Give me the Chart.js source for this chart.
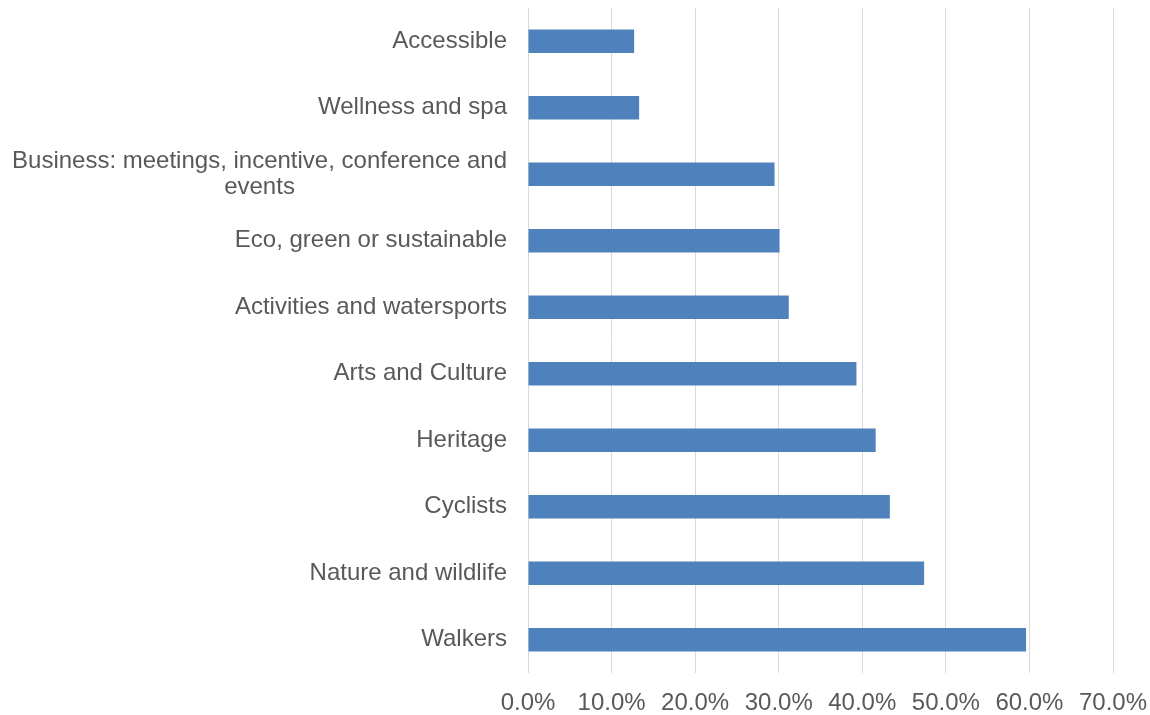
<!DOCTYPE html>
<html>
<head>
<meta charset="utf-8">
<script src="https://cdn.jsdelivr.net/npm/chart.js@4/dist/chart.umd.min.js"></script>
<style>
  body { margin: 0; background: #fff; }
  #wrap { width: 1150px; height: 715px; }
</style>
</head>
<body>
<div id="wrap"><canvas id="myChart" width="1150" height="715"></canvas></div>
<script>
// categories, top to bottom
const categories = [
  'Accessible',
  'Wellness and spa',
  ['Business: meetings, incentive, conference and', 'events'],
  'Eco, green or sustainable',
  'Activities and watersports',
  'Arts and Culture',
  'Heritage',
  'Cyclists',
  'Nature and wildlife',
  'Walkers'
];
const shares = [12.7, 13.3, 29.5, 30.1, 31.2, 39.3, 41.6, 43.3, 47.4, 59.6];
const xTicks = [0, 10, 20, 30, 40, 50, 60, 70];

const textColor = '#595959';
const fontFamily = '"Liberation Sans", Arial, sans-serif';
const fontSize = 24;

// draws the y labels like Excel does: right aligned, wrapped lines centred on each other
const yLabelPlugin = {
  id: 'yLabels',
  afterDraw(chart) {
    const scale = chart.scales.y;
    const ctx = chart.ctx;
    const right = scale.right - 21;
    const lineH = 26;
    ctx.save();
    ctx.font = fontSize + 'px ' + fontFamily;
    ctx.fillStyle = textColor;
    ctx.textBaseline = 'middle';
    categories.forEach((label, i) => {
      const lines = Array.isArray(label) ? label : [label];
      const y0 = scale.getPixelForTick(i) - (lines.length - 1) * lineH / 2;
      const widest = Math.max(...lines.map((l) => ctx.measureText(l).width));
      lines.forEach((line, j) => {
        if (lines.length > 1) {
          ctx.textAlign = 'center';
          ctx.fillText(line, right - widest / 2, y0 + j * lineH);
        } else {
          ctx.textAlign = 'right';
          ctx.fillText(line, right, y0);
        }
      });
    });
    ctx.restore();
  }
};

const ctx = document.getElementById('myChart').getContext('2d');
new Chart(ctx, {
  type: 'bar',
  data: {
    labels: categories,
    datasets: [
      {
        data: shares,
        backgroundColor: '#4F81BD',
        borderWidth: 0,
        categoryPercentage: 1,
        barPercentage: 0.35,
      },
    ],
  },
  options: {
    indexAxis: 'y',
    responsive: false,
    animation: false,
    devicePixelRatio: 1,
    layout: { padding: { top: 8, left: 0, right: 0, bottom: 0 } },
    plugins: {
      legend: { display: false },
      tooltip: { enabled: false },
    },
    scales: {
      x: {
        min: 0,
        max: 70,
        afterBuildTicks: (scale) => {
          scale.ticks = xTicks.map((v) => ({ value: v }));
        },
        afterFit: (scale) => {
          scale.height = 42;
          scale.paddingLeft = 0;
          scale.paddingRight = 37;
        },
        grid: { color: '#d9d9d9', lineWidth: 1, drawTicks: false },
        border: { display: false },
        ticks: {
          padding: 16,
          color: textColor,
          font: { family: fontFamily, size: fontSize },
          callback: (v) => Number(v).toFixed(1) + '%',
        },
      },
      y: {
        afterFit: (scale) => {
          scale.width = 528;
          scale.paddingTop = 0;
          scale.paddingBottom = 0;
        },
        grid: { display: false },
        border: { display: false },
        ticks: {
          color: 'rgba(0,0,0,0)',
          font: { family: fontFamily, size: 1 },
        },
      },
    },
  },
  plugins: [yLabelPlugin],
});
</script>
</body>
</html>
